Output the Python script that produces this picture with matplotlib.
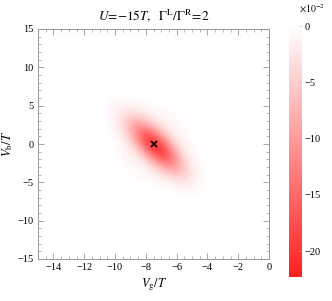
import numpy as np
import matplotlib
matplotlib.use("Agg")
import matplotlib.pyplot as plt
from matplotlib.colors import LinearSegmentedColormap
from matplotlib.ticker import MultipleLocator

plt.rcParams['font.family'] = ['Liberation Serif', 'DejaVu Serif']
plt.rcParams['mathtext.fontset'] = 'stix'

# data (units of 1e-2, sign negative), grid cell centres
vg_centres = [-10.5, -10.0, -9.5, -9.0, -8.5, -8.0, -7.5, -7.0, -6.5, -6.0, -5.5, -5.0, -4.5]
vb_centres = [-6, -5, -4, -3, -2, -1, 0, 1, 2, 3, 4, 5, 6]
# magnitudes; rows: vb from -6 (first) to 6 (last); columns: vg ascending
magnitudes = [
    [0.00, 0.02, 0.04, 0.07, 0.10, 0.13, 0.14, 0.17, 0.26, 0.51, 0.79, 0.83, 0.55],
    [0.02, 0.05, 0.10, 0.16, 0.23, 0.30, 0.38, 0.62, 1.23, 2.07, 2.39, 1.77, 0.83],
    [0.04, 0.10, 0.19, 0.31, 0.47, 0.66, 1.14, 2.39, 4.36, 5.52, 4.55, 2.39, 0.80],
    [0.07, 0.16, 0.31, 0.54, 0.88, 1.65, 3.69, 7.31, 10.26, 9.43, 5.52, 2.07, 0.51],
    [0.10, 0.23, 0.47, 0.87, 1.83, 4.49, 9.78, 15.23, 15.60, 10.26, 4.36, 1.23, 0.26],
    [0.13, 0.30, 0.65, 1.56, 4.28, 10.39, 18.05, 20.66, 15.23, 7.31, 2.39, 0.62, 0.17],
    [0.14, 0.36, 1.02, 3.21, 8.75, 17.00, 21.80, 18.05, 9.78, 3.69, 1.14, 0.38, 0.14],
    [0.15, 0.51, 1.87, 5.83, 12.73, 18.30, 17.00, 10.39, 4.49, 1.65, 0.66, 0.30, 0.13],
    [0.20, 0.86, 3.07, 7.56, 12.23, 12.73, 8.75, 4.28, 1.83, 0.88, 0.47, 0.23, 0.10],
    [0.31, 1.28, 3.58, 6.49, 7.56, 5.83, 3.21, 1.56, 0.87, 0.54, 0.31, 0.16, 0.07],
    [0.43, 1.35, 2.75, 3.58, 3.07, 1.87, 1.02, 0.65, 0.47, 0.31, 0.19, 0.10, 0.04],
    [0.41, 0.93, 1.35, 1.28, 0.86, 0.51, 0.36, 0.30, 0.23, 0.16, 0.10, 0.05, 0.02],
    [0.25, 0.41, 0.43, 0.31, 0.20, 0.15, 0.14, 0.13, 0.10, 0.07, 0.04, 0.02, 0.01],
]
marker_vg = [-7.5]
marker_vb = [0.0]
cbar_ticks = [0, -5, -10, -15, -20]
vmin, vmax = -22.3, 0.0

# full padded grid covering the axes
xc = np.arange(-15.0, 0.01, 0.5)     # 31 columns, extent -15.25..0.25
yc = np.arange(-16.0, 16.01, 1.0)    # 33 rows, extent -16.5..16.5
Z = np.zeros((len(yc), len(xc)))
for i, vb in enumerate(vb_centres):
    for j, vg in enumerate(vg_centres):
        Z[np.argmin(abs(yc - vb)), np.argmin(abs(xc - vg))] = -magnitudes[i][j]

cmap = LinearSegmentedColormap.from_list('wr', [(1, 0.12, 0.12), (1, 1, 1)])

fig = plt.figure(figsize=(3.32, 3.01), dpi=100)
ax = fig.add_axes([38/332, 42/301, 231/332, 230/301])
im = ax.imshow(Z, origin='lower', extent=(-15.25, 0.25, -16.5, 16.5), aspect='auto',
               cmap=cmap, vmin=vmin, vmax=vmax, interpolation='bicubic')
ax.plot(marker_vg, marker_vb, marker='x', color='black', ms=4, mew=1.2, ls='none')
ax.set_xlim(-15, 0)
ax.set_ylim(-15, 15)
ax.xaxis.set_major_locator(MultipleLocator(2))
ax.xaxis.set_minor_locator(MultipleLocator(0.5))
ax.yaxis.set_major_locator(MultipleLocator(5))
ax.yaxis.set_minor_locator(MultipleLocator(1))
ax.set_xticks([-14, -12, -10, -8, -6, -4, -2, 0])
ax.tick_params(which='both', direction='in', top=True, right=True,
               color='#999999', labelsize=7.5, pad=3)
ax.tick_params(which='major', length=4, width=0.6)
ax.tick_params(which='minor', length=2, width=0.5)
for s in ax.spines.values():
    s.set_color('#999999')
    s.set_linewidth(0.7)
ax.set_xlabel(r'$V_{\rm g}/T$', fontsize=9, labelpad=3)
ax.set_ylabel(r'$V_{\rm b}/T$', fontsize=9, labelpad=2)
ax.set_title(r'$U\!=\!{-}15T,\ \ \Gamma^{\rm L}/\Gamma^{\rm R}\!=\!2$', fontsize=9.5, pad=6)

cax = fig.add_axes([289/332, 24/301, 13/332, 251/301])
cb = fig.colorbar(im, cax=cax, ticks=cbar_ticks)
cb.outline.set_visible(False)
cb.ax.tick_params(labelsize=7.5, length=2, width=0.4, color='#bbbbbb', direction='in', pad=2)
cb.ax.set_yticklabels(['0', '\u22125', '\u221210', '\u221215', '\u221220'])
fig.text(312/332, 1 - 9/301, r'$\times10^{-2}$', fontsize=7, ha='center', va='center')

fig.savefig('out.png', dpi=100)
